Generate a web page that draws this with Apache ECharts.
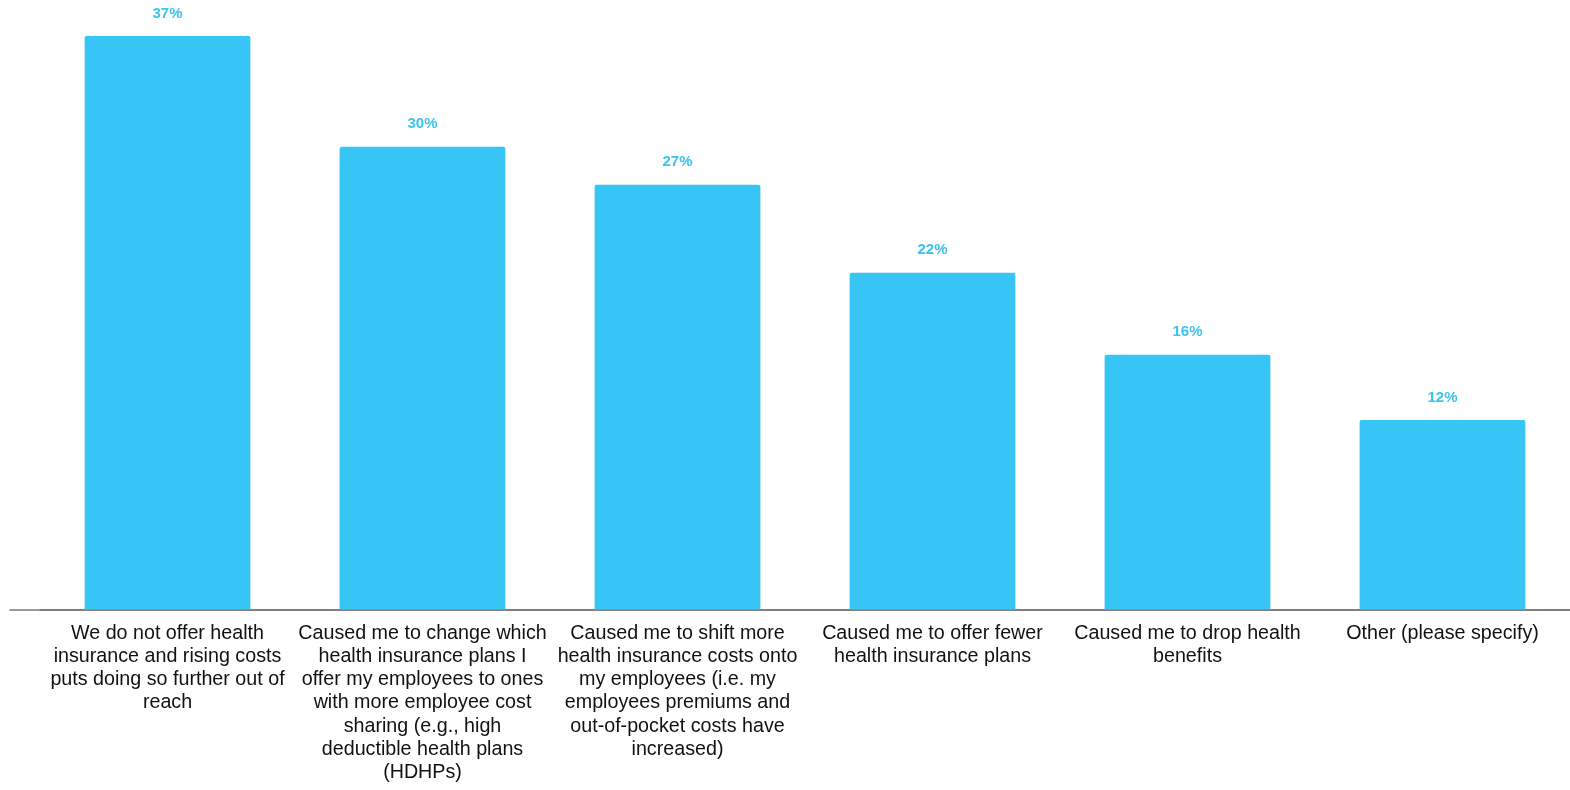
<!DOCTYPE html>
<html>
<head>
<meta charset="utf-8">
<script src="https://cdn.jsdelivr.net/npm/echarts@6/dist/echarts.min.js"></script>
<style>html,body{margin:0;padding:0;background:#fff;}#c{width:1570px;height:790px;}</style>
</head>
<body>
<div id="c"></div>
<script>
const categories = [
  "We do not offer health\ninsurance and rising costs\nputs doing so further out of\nreach",
  "Caused me to change which\nhealth insurance plans I\noffer my employees to ones\nwith more employee cost\nsharing (e.g., high\ndeductible health plans\n(HDHPs)",
  "Caused me to shift more\nhealth insurance costs onto\nmy employees (i.e. my\nemployees premiums and\nout-of-pocket costs have\nincreased)",
  "Caused me to offer fewer\nhealth insurance plans",
  "Caused me to drop health\nbenefits",
  "Other (please specify)"
];
const values = [37, 29.86, 27.4, 21.73, 16.44, 12.23];

const axisLineStyle = { color: '#7a7a7a', width: 1.5 };
const chart = echarts.init(document.getElementById('c'));
chart.setOption({
  animation: false,
  grid: [
    { left: 40, right: 0, top: 36, bottom: 180.5 },
    { left: 10, right: 0, top: 36, bottom: 180.5 }
  ],
  xAxis: [{
    type: 'category',
    gridIndex: 0,
    data: categories,
    axisLine: { show: true, lineStyle: axisLineStyle },
    axisTick: { show: false },
    axisLabel: {
      interval: 0,
      color: '#111',
      fontFamily: 'Liberation Sans, Arial, sans-serif',
      fontSize: 19.7,
      lineHeight: 23.3,
      margin: 12
    }
  }, {
    type: 'value',
    gridIndex: 1,
    min: 0, max: 1,
    axisLine: { show: true, lineStyle: axisLineStyle },
    axisTick: { show: false },
    axisLabel: { show: false },
    splitLine: { show: false }
  }],
  yAxis: [
    { type: 'value', gridIndex: 0, min: 0, max: 37, show: false, splitLine: { show: false } },
    { type: 'value', gridIndex: 1, min: 0, max: 1, show: false, splitLine: { show: false } }
  ],
  series: [{
    type: 'bar',
    xAxisIndex: 0,
    yAxisIndex: 0,
    data: values,
    barCategoryGap: '35%',
    z: 3,
    itemStyle: { color: '#36c5f4', borderRadius: [2, 2, 0, 0] },
    label: {
      show: true,
      position: 'top',
      distance: 15,
      color: '#3cc3ee',
      fontFamily: 'Liberation Sans, Arial, sans-serif',
      fontWeight: 'bold',
      fontSize: 15,
      formatter: p => Math.round(p.value) + '%'
    }
  }]
});
</script>
</body>
</html>
